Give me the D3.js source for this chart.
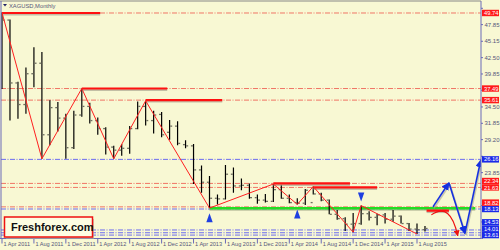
<!DOCTYPE html>
<html>
<head>
<meta charset="utf-8">
<script src="https://cdn.jsdelivr.net/npm/d3@7"></script>
<style>
  body { margin: 0; background: #fff; }
  svg text { font-family: "Liberation Sans", Arial, sans-serif; }
</style>
</head>
<body>
<svg id="chart" width="500" height="250"></svg>
<script>
// monthly bars XAGUSD, Apr 2011 .. Sep 2015
const months = ["2011-04","2011-05","2011-06","2011-07","2011-08","2011-09","2011-10","2011-11","2011-12",
  "2012-01","2012-02","2012-03","2012-04","2012-05","2012-06","2012-07","2012-08","2012-09","2012-10","2012-11","2012-12",
  "2013-01","2013-02","2013-03","2013-04","2013-05","2013-06","2013-07","2013-08","2013-09","2013-10","2013-11","2013-12",
  "2014-01","2014-02","2014-03","2014-04","2014-05","2014-06","2014-07","2014-08","2014-09","2014-10","2014-11","2014-12",
  "2015-01","2015-02","2015-03","2015-04","2015-05","2015-06","2015-07","2015-08","2015-09"];
const open  = [37.9,48.6,38.4,34.9,39.9,41.6,30.0,34.4,32.7, 27.9,33.2,34.6,32.3,31.0,28.0,27.5,27.8,31.0,34.6,32.3,33.3,
  30.4,31.4,28.4,28.2,24.3,22.3,19.7,19.6,23.6,21.7,21.8,19.8, 19.4,19.2,21.1,19.7,19.0,18.9,19.0,20.4,19.4,17.1,16.4,15.5,
  15.6,17.2,16.6,17.0,16.3,16.8,15.6,14.7,14.6];
const high  = [49.8,48.7,38.6,40.9,44.2,43.4,35.6,35.3,33.4, 33.9,37.5,35.2,32.8,31.2,28.2,28.5,31.4,35.4,35.5,33.9,33.7,
  32.4,32.2,29.1,28.5,25.0,23.3,20.3,25.1,24.7,22.9,22.1,20.3, 20.4,22.0,21.9,20.3,19.7,21.2,21.6,20.6,19.5,17.8,16.6,17.3,
  18.5,17.6,17.2,17.3,17.8,16.9,15.7,15.6,15.2];
const low   = [37.4,32.3,32.6,33.4,37.7,26.1,28.3,30.5,26.1, 27.7,32.9,31.8,30.0,26.8,26.1,26.6,26.9,30.9,31.5,30.2,29.6,
  29.2,28.3,27.8,22.0,20.6,18.1,18.7,19.5,20.6,21.0,19.6,18.8, 19.0,19.1,19.6,18.9,18.7,18.6,20.3,19.2,17.1,16.2,14.4,14.2,
  15.4,16.1,15.3,15.6,15.9,15.6,14.4,13.9,14.3];
const close = [48.6,38.4,34.9,39.9,41.6,30.0,34.4,32.7,27.9, 33.2,34.6,32.3,31.0,28.0,27.5,27.8,31.0,34.6,32.3,33.2,30.0,
  31.4,28.6,28.2,24.3,22.3,19.7,19.6,23.6,21.7,21.8,19.8,19.4, 19.2,21.1,19.7,19.0,18.9,21.0,20.4,19.4,17.1,16.4,15.5,15.6,
  17.2,16.6,17.0,16.3,16.8,15.6,14.7,14.6,14.8];

// axis ticks
const priceTicks = [50.50,47.85,45.15,42.50,39.85,37.20,34.50,31.85,29.20,26.50,23.85,21.15,18.50,15.85,13.20];
const dateTicks = [0,4,8,12,16,20,24,28,32,36,40,44,48,52];
const dateLabels = ["1 Apr 2011","1 Aug 2011","1 Dec 2011","1 Apr 2012","1 Aug 2012","1 Dec 2012","1 Apr 2013",
  "1 Aug 2013","1 Dec 2013","1 Apr 2014","1 Aug 2014","1 Dec 2014","1 Apr 2015","1 Aug 2015"];

// zigzag turning points [month index, price]
const zigzag = [[0,49.8],[5,26.1],[10,37.5],[14,26.1],[18,35.5],[26,18.1],[34,22.0],[37,18.7],[39,21.6],[44,14.2],[45,18.5],[52,13.9]];

// dash-dot levels across the chart
const redLevels  = [49.74,37.49,35.61,22.1,21.45,18.3];
const blueLevels = [26.0,17.95,14.55,14.1,13.72];
// thick level segments [from month, to month, price]
const redSegments = [[0,12.3,49.74],[10,20.7,37.49],[18,27.6,35.61],[34,43.6,22.1],[39,47,21.45],[53.2,56,17.7]];
const greenSegment = [26,59.3,18.06];
// price labels on the axis [price, text, colour]
const axisMarks = [[49.74,"49.74","red"],[37.49,"37.49","red"],[35.61,"35.61","red"],[26.0,"26.16","blue"],
  [22.1,"22.34","red"],[21.45,"21.63","red"],[18.3,"18.82","red"],[17.95,"18.13","blue"],
  [14.55,"14.53","blue"],[14.1,"14.01","blue"],[13.72,"13.61","blue"]];
// forecast paths
const blueForecast = [[54,18.3],[56,22.2],[58,14.0],[60,25.9]];
const upArrows = [[26,18.06],[37,18.7]];
const downArrows = [[45,18.5]];

const W = 500, H = 250;
const plotL = 1, plotR = 481, plotT = 1.5, plotB = 238.5;
const bg = "#f8f8d3";

const svg = d3.select("#chart");

const x = d3.scaleLinear().domain([0, 52]).range([2, 417]);
const y = d3.scaleLinear().domain([13.2, 50.5]).range([238.3, 8.3]);

svg.append("rect").attr("width", W).attr("height", H).attr("fill", bg);

const defs = svg.append("defs");
defs.append("clipPath").attr("id", "plot")
  .append("rect").attr("x", plotL).attr("y", plotT).attr("width", plotR - plotL).attr("height", plotB - plotT);

const plot = svg.append("g").attr("clip-path", "url(#plot)");

// dash-dot levels
plot.selectAll(".rl").data(redLevels).enter().append("line")
  .attr("x1", plotL).attr("x2", plotR).attr("y1", d => y(d)).attr("y2", d => y(d))
  .attr("stroke", "#f07565").attr("stroke-width", 1).attr("stroke-dasharray", "5,1.5,1,1.5");
plot.selectAll(".bl").data(blueLevels).enter().append("line")
  .attr("x1", plotL).attr("x2", plotR).attr("y1", d => y(d)).attr("y2", d => y(d))
  .attr("stroke", "#6b6bf0").attr("stroke-width", 1).attr("stroke-dasharray", "5,1.5,1,1.5");

// green support
plot.append("line")
  .attr("x1", x(greenSegment[0])).attr("x2", x(greenSegment[1]))
  .attr("y1", y(greenSegment[2]) + 1.5).attr("y2", y(greenSegment[2]) + 1.5)
  .attr("stroke", "#9aa080").attr("stroke-width", 2).attr("opacity", 0.6);
plot.append("line")
  .attr("x1", x(greenSegment[0])).attr("x2", x(greenSegment[1]))
  .attr("y1", y(greenSegment[2])).attr("y2", y(greenSegment[2]))
  .attr("stroke", "#22dd22").attr("stroke-width", 2.5);

// OHLC bars
const bars = plot.selectAll(".bar").data(months).enter().append("g");
bars.append("line")
  .attr("x1", (d, i) => x(i)).attr("x2", (d, i) => x(i))
  .attr("y1", (d, i) => y(high[i])).attr("y2", (d, i) => y(low[i]))
  .attr("stroke", "#000").attr("stroke-width", 1.2);
bars.append("rect")
  .attr("x", (d, i) => x(i) - 2.6).attr("y", (d, i) => y(open[i]) - 0.6)
  .attr("width", 2).attr("height", 1.3).attr("fill", "#6f6f60");
bars.append("rect")
  .attr("x", (d, i) => x(i) + 0.6).attr("y", (d, i) => y(close[i]) - 0.6)
  .attr("width", 2).attr("height", 1.3).attr("fill", "#6f6f60");

// thick red segments with shadow
plot.selectAll(".rsh").data(redSegments).enter().append("line")
  .attr("x1", d => x(d[0])).attr("x2", d => x(d[1]))
  .attr("y1", d => y(d[2]) + 1.5).attr("y2", d => y(d[2]) + 1.5)
  .attr("stroke", "#a09a88").attr("stroke-width", 2).attr("opacity", 0.6);
plot.selectAll(".rs").data(redSegments).enter().append("line")
  .attr("x1", d => x(d[0])).attr("x2", d => x(d[1]))
  .attr("y1", d => y(d[2])).attr("y2", d => y(d[2]))
  .attr("stroke", "#ff1010").attr("stroke-width", 2.2);

// zigzag
plot.append("path")
  .datum(zigzag)
  .attr("d", d3.line().x(d => x(d[0])).y(d => y(d[1])))
  .attr("fill", "none").attr("stroke", "#ff2020").attr("stroke-width", 1);

// arrow markers
function marker(id, colour) {
  defs.append("marker").attr("id", id).attr("viewBox", "0 0 10 10")
    .attr("refX", 9).attr("refY", 5).attr("markerWidth", 5).attr("markerHeight", 5)
    .attr("orient", "auto-start-reverse")
    .append("path").attr("d", "M0,0L10,5L0,10z").attr("fill", colour);
}
marker("ab", "#1530e0");
marker("ar", "#ee1010");

// blue forecast legs
for (let i = 0; i < blueForecast.length - 1; i++) {
  const a = blueForecast[i], b = blueForecast[i + 1];
  plot.append("line")
    .attr("x1", x(a[0]) + 1).attr("y1", y(a[1]) + 1.5).attr("x2", x(b[0]) + 1).attr("y2", y(b[1]) + 1.5)
    .attr("stroke", "#aaa890").attr("stroke-width", 1.6).attr("opacity", 0.6);
  plot.append("line")
    .attr("x1", x(a[0])).attr("y1", y(a[1])).attr("x2", x(b[0])).attr("y2", y(b[1]))
    .attr("stroke", "#1530e0").attr("stroke-width", 1.6).attr("marker-end", "url(#ab)");
}

// red curved arrow
const arcStart = [53.8, 17.0], arcTop = [55.2, 18.2], arcEnd = [57.1, 13.6];
plot.append("path")
  .attr("d", `M${x(arcStart[0])},${y(arcStart[1])} Q${x(arcTop[0]) + 8},${y(arcTop[1]) - 6} ${x(arcEnd[0])},${y(arcEnd[1])}`)
  .attr("fill", "none").attr("stroke", "#ee1010").attr("stroke-width", 1.2).attr("marker-end", "url(#ar)");

// blue triangles
plot.selectAll(".up").data(upArrows).enter().append("path")
  .attr("d", d => { const cx = x(d[0]), cy = y(d[1]) + 5; return `M${cx},${cy}L${cx + 3.2},${cy + 9}L${cx - 3.2},${cy + 9}Z`; })
  .attr("fill", "#1f3fe0");
plot.selectAll(".dn").data(downArrows).enter().append("path")
  .attr("d", d => { const cx = x(d[0]), cy = y(d[1]) - 4; return `M${cx},${cy}L${cx + 3.2},${cy - 9}L${cx - 3.2},${cy - 9}Z`; })
  .attr("fill", "#1f3fe0");

// frame
svg.append("line").attr("x1", 0).attr("x2", plotR).attr("y1", 1).attr("y2", 1).attr("stroke", "#888").attr("stroke-width", 1);
svg.append("line").attr("x1", 1).attr("x2", 1).attr("y1", 1).attr("y2", plotB).attr("stroke", "#6a6ab8").attr("stroke-width", 1);
svg.append("line").attr("x1", plotR).attr("x2", plotR).attr("y1", 1).attr("y2", plotB).attr("stroke", "#6a6ab8").attr("stroke-width", 1);
svg.append("line").attr("x1", 0).attr("x2", plotR).attr("y1", plotB).attr("y2", plotB).attr("stroke", "#6a6ab8").attr("stroke-width", 1);

// coloured price labels, stacked upwards when they collide
const labelH = 6.4;
const placed = axisMarks.map(m => ({ p: m[0], text: m[1], colour: m[2], ly: y(m[0]) }))
  .sort((a, b) => b.ly - a.ly);
for (let i = 1; i < placed.length; i++) {
  if (placed[i - 1].ly - placed[i].ly < labelH) placed[i].ly = placed[i - 1].ly - labelH;
}

// price axis
const yAxis = svg.append("g");
priceTicks.forEach(p => {
  yAxis.append("line").attr("x1", plotR).attr("x2", plotR + 2).attr("y1", y(p)).attr("y2", y(p)).attr("stroke", "#6a6ab8");
  const hidden = placed.some(m => Math.abs(m.ly - y(p)) < labelH);
  if (!hidden && y(p) < plotB - 2) {
    yAxis.append("text").attr("x", plotR + 3.5).attr("y", y(p) + 2).attr("font-size", 6).attr("fill", "#55557a").text(p.toFixed(2));
  }
});
placed.forEach(m => {
  yAxis.append("rect").attr("x", plotR + 1).attr("y", m.ly - labelH / 2).attr("width", 17).attr("height", labelH)
    .attr("fill", m.colour === "red" ? "#ff1a1a" : "#1a2ae8");
  yAxis.append("text").attr("x", plotR + 3).attr("y", m.ly + 2.1).attr("font-size", 5.8).attr("fill", "#fff").text(m.text);
});

// time axis
const xAxis = svg.append("g");
dateTicks.forEach((m, i) => {
  xAxis.append("line").attr("x1", x(m)).attr("x2", x(m)).attr("y1", plotB).attr("y2", plotB + 5).attr("stroke", "#6a6ab8");
  xAxis.append("text").attr("x", x(m) + 1.5).attr("y", plotB + 7.5).attr("font-size", 5.6).attr("fill", "#55557a").text(dateLabels[i]);
});

// title
svg.append("path").attr("d", "M3,4L7,4L5,6.5Z").attr("fill", "#222266");
svg.append("text").attr("x", 9).attr("y", 7.5).attr("font-size", 5.8).attr("fill", "#55557a").text("XAGUSD,Monthly");

// watermark box
svg.append("rect").attr("x", 6).attr("y", 219).attr("width", 88).attr("height", 20).attr("fill", "#b0ad98").attr("opacity", 0.6);
svg.append("rect").attr("x", 4.5).attr("y", 217).attr("width", 88).attr("height", 20)
  .attr("fill", "#fdfde2").attr("stroke", "#ee1111").attr("stroke-width", 1.5);
svg.append("text").attr("x", 11).attr("y", 231).attr("font-size", 11).attr("font-weight", "bold").attr("fill", "#111")
  .text("Freshforex.com");
</script>
</body>
</html>
